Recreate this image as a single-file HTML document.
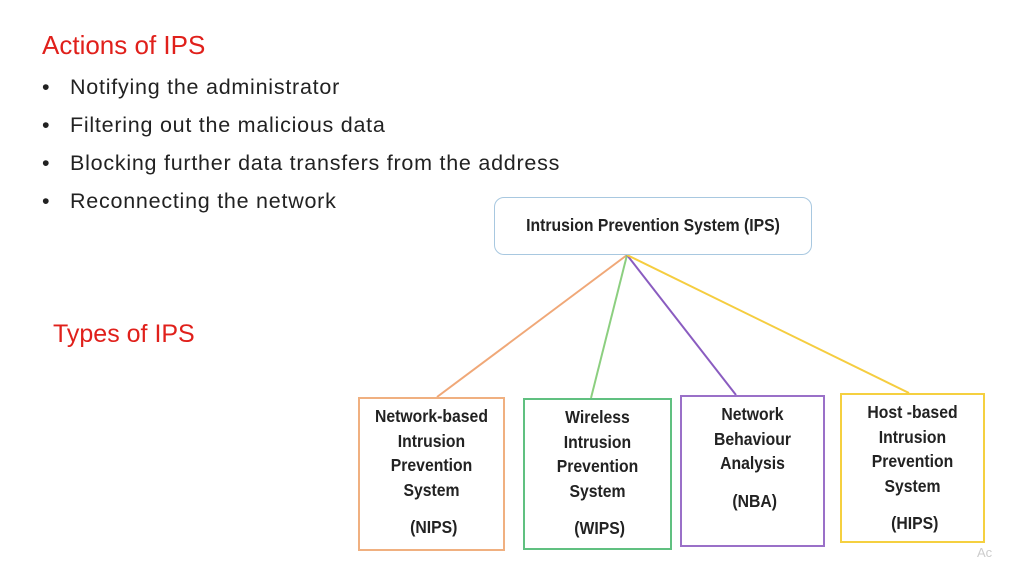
<!DOCTYPE html>
<html><head><meta charset="utf-8"><style>
body{margin:0;width:1024px;height:576px;background:#fff;position:relative;overflow:hidden;font-family:"Liberation Sans",sans-serif;}
.t{position:absolute;white-space:nowrap;}
.h{color:#e0201b;}
.b{font-size:21.5px;letter-spacing:0.75px;color:#222;left:42px;}
.b span{position:absolute;left:28px;}
.box{position:absolute;box-sizing:border-box;border:2px solid;background:#fff;text-align:center;font-size:17.5px;color:#222;line-height:24.5px;font-weight:bold;}
.box div{transform:scaleX(0.9);}
.sp{line-height:51px;}
</style></head><body>
<div class="t h" style="left:42px;top:30px;font-size:26px;">Actions of IPS</div>
<div class="t b" style="top:75px;">•<span>Notifying the administrator</span></div>
<div class="t b" style="top:113px;">•<span>Filtering out the malicious data</span></div>
<div class="t b" style="top:151px;">•<span>Blocking further data transfers from the address</span></div>
<div class="t b" style="top:189px;">•<span>Reconnecting the network</span></div>
<div class="t h" style="left:53px;top:320px;font-size:25px;">Types of IPS</div>
<svg style="position:absolute;left:0;top:0" width="1024" height="576">
<line x1="627" y1="255" x2="437" y2="397" stroke="#f0a878" stroke-width="2"/>
<line x1="627" y1="255" x2="591" y2="398" stroke="#8ccf80" stroke-width="2"/>
<line x1="627" y1="255" x2="736" y2="395" stroke="#8a5cc0" stroke-width="2"/>
<line x1="627" y1="255" x2="909" y2="393" stroke="#f5cd40" stroke-width="2"/>
</svg>
<div class="box" style="left:494px;top:197px;width:318px;height:58px;border-color:#a8c8e0;border-width:1.5px;border-radius:10px;line-height:54px;"><div>Intrusion Prevention System (IPS)</div></div>
<div class="box" style="left:358px;top:397px;width:147px;height:154px;border-color:#f0b080;padding-top:5px;"><div>Network-based<br>Intrusion<br>Prevention<br>System<br><span class="sp">&nbsp;</span>(NIPS)</div></div>
<div class="box" style="left:523px;top:398px;width:149px;height:152px;border-color:#60c080;padding-top:5px;"><div>Wireless<br>Intrusion<br>Prevention<br>System<br><span class="sp">&nbsp;</span>(WIPS)</div></div>
<div class="box" style="left:680px;top:395px;width:145px;height:152px;border-color:#9a70c8;padding-top:5px;"><div>Network<br>Behaviour<br>Analysis<br><span class="sp">&nbsp;</span>(NBA)</div></div>
<div class="box" style="left:840px;top:393px;width:145px;height:150px;border-color:#f5d040;padding-top:5px;"><div>Host -based<br>Intrusion<br>Prevention<br>System<br><span class="sp">&nbsp;</span>(HIPS)</div></div>
<div class="t" style="left:977px;top:545px;font-size:13px;color:#ccc;">Ac</div>
</body></html>
